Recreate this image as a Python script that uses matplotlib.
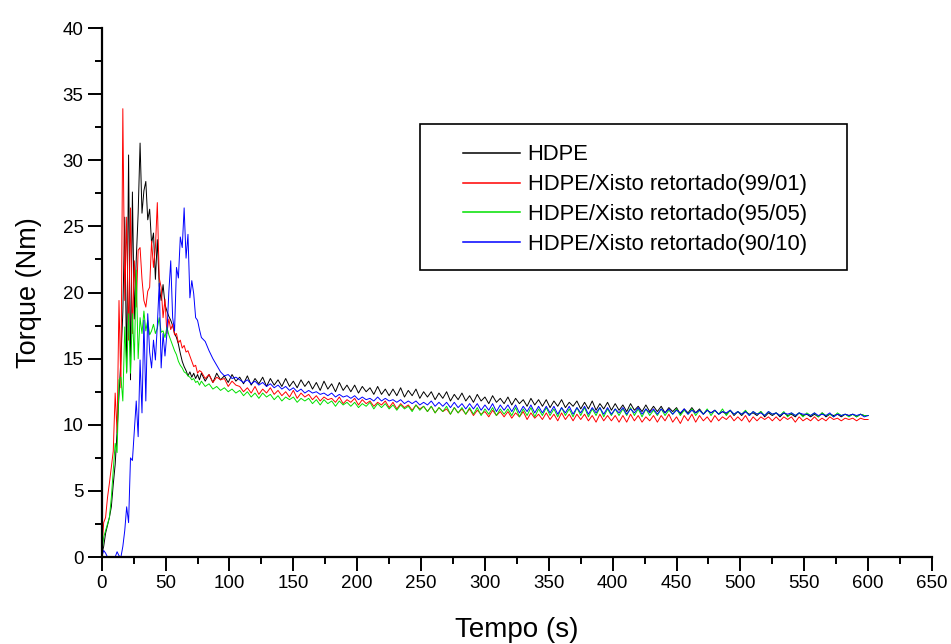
import numpy as np
import matplotlib
matplotlib.use('Agg')
import matplotlib.pyplot as plt
from matplotlib.patches import Rectangle
from matplotlib.lines import Line2D
from matplotlib.ticker import MultipleLocator

plt.rcParams['font.family'] = ['Liberation Sans', 'DejaVu Sans']

# time grid: fine sampling during the mixing peak, coarser afterwards
t_early = np.arange(0, 77, 1.5)
t_tail = np.arange(78, 601, 3)
tempo = np.concatenate([t_early, t_tail])

hdpe_early = [0.2, 0.8, 1.8, 2.4, 3.0, 3.8, 5.5, 7.0, 9.5, 12.2,
              15.0, 18.5, 25.7, 14.0, 30.4, 13.4, 27.6, 18.0, 22.5, 26.0,
              31.3, 26.0, 27.7, 28.4, 25.5, 26.3, 23.7, 24.5, 21.0, 24.0,
              20.5, 19.4, 20.6, 19.1, 18.6, 18.2, 17.9, 17.5, 16.9, 16.6,
              16.1, 15.4, 14.8, 14.4, 14.1, 13.7, 14.0, 13.6, 13.9, 13.5,
              13.8, 13.4]
hdpe_tail = [13.9, 13.3, 13.8, 13.2, 13.9, 13.4, 13.7, 13.2, 13.8, 13.3,
             13.6, 13.1, 13.7, 13.0, 13.5, 13.1, 13.6, 12.9, 13.5, 13.0,
             13.4, 12.9, 13.5, 12.9, 13.3, 12.8, 13.4, 12.9, 13.3, 12.7,
             13.2, 12.6, 13.3, 12.7, 13.1, 12.5, 13.2, 12.6, 13.0, 12.5,
             13.0, 12.4, 12.9, 12.5, 12.8, 12.3, 12.9, 12.3, 12.7, 12.2,
             12.7, 12.2, 12.8, 12.1, 12.6, 12.2, 12.7, 12.0, 12.5, 12.1,
             12.5, 11.9, 12.4, 12.0, 12.5, 11.8, 12.3, 11.9, 12.4, 11.8,
             12.2, 11.7, 12.3, 11.8, 12.1, 11.6, 12.2, 11.7, 12.0, 11.6,
             12.1, 11.5, 12.0, 11.6, 11.9, 11.4, 12.0, 11.5, 11.9, 11.4,
             11.9, 11.3, 11.8, 11.4, 11.9, 11.3, 11.7, 11.4, 11.8, 11.2,
             11.7, 11.2, 11.8, 11.1, 11.6, 11.2, 11.7, 11.1, 11.6, 11.1,
             11.5, 11.0, 11.6, 11.1, 11.4, 11.0, 11.5, 11.0, 11.4, 11.0,
             11.4, 10.9, 11.3, 11.0, 11.3, 10.8, 11.2, 10.9, 11.3, 10.9,
             11.2, 10.8, 11.1, 10.9, 11.1, 10.8, 11.0, 10.8, 11.1, 10.7,
             11.0, 10.7, 11.0, 10.8, 10.9, 10.7, 11.0, 10.6, 10.9, 10.7,
             10.9, 10.6, 10.9, 10.7, 10.8, 10.6, 10.9, 10.7, 10.8, 10.6,
             10.8, 10.6, 10.9, 10.6, 10.8, 10.7, 10.8, 10.6, 10.8, 10.7,
             10.8, 10.6, 10.8, 10.7, 10.7]

x99_early = [0.5, 2.6, 3.0, 4.5, 5.6, 6.8, 8.0, 12.4, 9.4, 19.4,
             12.8, 33.9, 19.4, 25.7, 16.4, 26.4, 16.9, 22.4, 18.9, 23.2,
             23.4, 21.0, 19.4, 18.9, 20.1, 20.4, 23.9, 21.9, 23.4, 26.8,
             21.1, 20.4, 18.1, 19.5, 16.9, 18.0, 17.2, 17.6, 16.8, 16.9,
             16.2, 16.4, 15.8, 16.0, 15.5, 15.6, 15.2, 14.8, 14.4, 14.5,
             13.9, 14.1]
x99_tail = [14.0, 13.5, 13.8, 13.2, 13.6, 13.4, 13.5, 12.9, 13.3, 13.0,
            12.9, 12.5, 12.8, 12.4, 12.9, 12.3, 12.7, 12.4, 12.8, 12.3,
            12.6, 12.2, 12.5, 12.1, 12.6, 12.0, 12.4, 12.1, 12.3, 11.9,
            12.2, 11.8, 12.1, 11.9, 12.0, 11.7, 12.1, 11.6, 11.9, 11.7,
            12.0, 11.5, 11.9, 11.6, 11.8, 11.4, 11.7, 11.5, 11.8, 11.3,
            11.7, 11.2, 11.6, 11.3, 11.5, 11.1, 11.5, 11.2, 11.4, 11.0,
            11.4, 10.9, 11.3, 11.0, 11.2, 10.8, 11.3, 10.9, 11.2, 10.8,
            11.2, 10.7, 11.1, 10.8, 11.0, 10.6, 11.1, 10.7, 11.0, 10.6,
            11.0, 10.5, 10.9, 10.6, 11.0, 10.4, 10.9, 10.5, 10.8, 10.4,
            10.9, 10.4, 10.8, 10.3, 10.9, 10.4, 10.8, 10.3, 10.8, 10.4,
            10.8, 10.3, 10.7, 10.2, 10.8, 10.3, 10.7, 10.3, 10.7, 10.2,
            10.7, 10.2, 10.8, 10.3, 10.7, 10.2, 10.6, 10.3, 10.7, 10.2,
            10.7, 10.3, 10.8, 10.2, 10.6, 10.1, 10.7, 10.3, 10.8, 10.2,
            10.7, 10.3, 10.6, 10.2, 10.7, 10.3, 10.6, 10.4, 10.7, 10.3,
            10.6, 10.3, 10.7, 10.2, 10.6, 10.3, 10.6, 10.4, 10.6, 10.3,
            10.6, 10.3, 10.6, 10.4, 10.6, 10.2, 10.6, 10.3, 10.5, 10.3,
            10.6, 10.3, 10.5, 10.3, 10.6, 10.4, 10.5, 10.3, 10.5, 10.4,
            10.5, 10.3, 10.5, 10.4, 10.4]

x95_early = [0.2, 1.5, 2.0, 2.5, 3.0, 4.5, 6.5, 8.6, 7.9, 13.4,
             13.6, 11.8, 17.4, 13.9, 18.4, 13.9, 18.4, 14.9, 21.7, 15.0,
             18.1, 16.9, 18.6, 17.1, 17.9, 16.8, 17.1, 17.6, 16.9, 17.3,
             18.1, 17.0, 17.1, 16.6, 17.4, 16.8, 16.4, 16.0, 15.6, 15.3,
             14.8, 14.5, 14.3, 14.0, 13.9, 13.7, 13.6, 13.4, 13.5, 13.2,
             13.3, 13.0]
x95_tail = [13.3, 12.9, 13.1, 12.7, 12.9, 12.6, 12.8, 12.5, 12.7, 12.4,
            12.6, 12.2, 12.5, 12.1, 12.4, 12.0, 12.4, 12.1, 12.3, 11.9,
            12.2, 11.8, 12.1, 11.9, 12.1, 11.7, 12.0, 11.8, 12.0, 11.6,
            11.9, 11.5, 11.9, 11.6, 11.8, 11.4, 11.8, 11.5, 11.7, 11.4,
            11.7, 11.3, 11.6, 11.4, 11.7, 11.2, 11.6, 11.3, 11.6, 11.2,
            11.5, 11.1, 11.5, 11.2, 11.4, 11.0, 11.5, 11.1, 11.4, 11.0,
            11.4, 10.9, 11.3, 11.0, 11.4, 10.8, 11.3, 10.9, 11.3, 10.8,
            11.3, 10.8, 11.3, 10.7, 11.2, 10.8, 11.3, 10.7, 11.2, 10.8,
            11.2, 10.7, 11.3, 10.6, 11.2, 10.7, 11.3, 10.6, 11.2, 10.7,
            11.3, 10.7, 11.2, 10.6, 11.3, 10.7, 11.2, 10.6, 11.3, 10.7,
            11.3, 10.6, 11.2, 10.7, 11.3, 10.6, 11.2, 10.7, 11.2, 10.7,
            11.2, 10.7, 11.3, 10.7, 11.2, 10.6, 11.2, 10.7, 11.1, 10.7,
            11.2, 10.7, 11.1, 10.8, 11.2, 10.7, 11.1, 10.8, 11.2, 10.7,
            11.1, 10.8, 11.2, 10.7, 11.1, 10.8, 11.2, 10.7, 11.1, 10.8,
            11.0, 10.8, 11.1, 10.7, 11.0, 10.8, 11.0, 10.7, 11.0, 10.8,
            10.9, 10.7, 11.0, 10.6, 10.9, 10.7, 10.9, 10.6, 10.9, 10.7,
            10.9, 10.6, 10.9, 10.7, 10.8, 10.6, 10.9, 10.7, 10.8, 10.6,
            10.8, 10.6, 10.8, 10.7, 10.7]

x90_early = [0.0, 0.5, 0.3, 0.0, 0.0, 0.0, 0.0, 0.0, 0.4, 0.1,
             0.0, 0.8, 2.0, 3.8, 2.6, 7.5, 7.3, 9.5, 11.8, 9.1,
             14.9, 10.9, 17.9, 11.8, 18.4, 15.5, 14.3, 16.4, 14.9, 17.5,
             20.7, 14.3, 16.9, 15.2, 16.9, 20.0, 22.4, 18.1, 17.1, 21.9,
             21.1, 24.2, 23.4, 26.4, 22.6, 24.4, 19.6, 20.9, 19.9, 18.1,
             17.9, 17.2]
x90_tail = [16.6, 16.3, 15.6, 15.0, 14.5, 14.0, 13.7, 13.8, 13.5, 13.6,
            13.4, 13.2, 13.4, 13.1, 13.3, 13.0, 13.2, 12.9, 13.1, 12.8,
            13.0, 12.7, 12.9, 12.6, 12.8, 12.5, 12.7, 12.4, 12.6, 12.4,
            12.5, 12.3, 12.4, 12.2, 12.4, 12.1, 12.3, 12.1, 12.2, 12.0,
            12.2, 11.9, 12.1, 11.9, 12.0, 11.8, 12.1, 11.8, 12.0, 11.8,
            11.9, 11.7, 11.9, 11.6, 11.8, 11.6, 11.8, 11.5, 11.7, 11.5,
            11.8, 11.4, 11.7, 11.4, 11.7, 11.3, 11.7, 11.3, 11.6, 11.2,
            11.6, 11.2, 11.6, 11.1, 11.5, 11.1, 11.6, 11.0, 11.5, 11.1,
            11.5, 11.0, 11.5, 10.9, 11.4, 11.0, 11.5, 10.9, 11.4, 10.9,
            11.4, 10.9, 11.4, 10.8, 11.3, 10.9, 11.4, 10.8, 11.3, 10.9,
            11.4, 10.8, 11.3, 10.9, 11.3, 10.8, 11.3, 10.8, 11.2, 10.9,
            11.3, 10.8, 11.2, 10.9, 11.3, 10.8, 11.2, 10.9, 11.2, 10.8,
            11.2, 10.9, 11.2, 10.8, 11.1, 10.9, 11.2, 10.8, 11.1, 10.9,
            11.1, 10.8, 11.1, 10.9, 11.1, 10.8, 11.0, 10.9, 11.1, 10.8,
            11.0, 10.8, 11.0, 10.7, 11.0, 10.8, 10.9, 10.7, 11.0, 10.8,
            10.9, 10.7, 10.9, 10.8, 10.9, 10.7, 10.9, 10.8, 10.8, 10.7,
            10.9, 10.7, 10.8, 10.7, 10.9, 10.6, 10.8, 10.7, 10.8, 10.7,
            10.8, 10.7, 10.8, 10.6, 10.7]

series = [
    ('HDPE', hdpe_early + hdpe_tail, 'black'),
    ('HDPE/Xisto retortado(99/01)', x99_early + x99_tail, '#ff0000'),
    ('HDPE/Xisto retortado(95/05)', x95_early + x95_tail, '#00e000'),
    ('HDPE/Xisto retortado(90/10)', x90_early + x90_tail, '#0000ff'),
]

fig = plt.figure(figsize=(9.51, 6.44), dpi=100)
ax = fig.add_axes([0.107, 0.135, 0.873, 0.8215])

handles = []
for name, vals, col in series:
    ax.plot(tempo, vals, color=col, lw=0.7)
    handles.append(Line2D([], [], color=col, lw=1.1, label=name))

ax.set_xlim(0, 650)
ax.set_ylim(0, 40)
ax.xaxis.set_major_locator(MultipleLocator(50))
ax.xaxis.set_minor_locator(MultipleLocator(25))
ax.yaxis.set_major_locator(MultipleLocator(5))
ax.yaxis.set_minor_locator(MultipleLocator(2.5))
ax.spines['top'].set_visible(False)
ax.spines['right'].set_visible(False)
ax.spines['left'].set_linewidth(1.6)
ax.spines['bottom'].set_linewidth(1.6)
ax.tick_params(which='major', direction='out', length=10, width=1.4, labelsize=13.5, pad=3)
ax.tick_params(which='minor', direction='out', length=5, width=1.4)

ax.set_xlabel('Tempo (s)', fontsize=20, labelpad=18)
ax.set_ylabel('Torque (Nm)', fontsize=19.5, labelpad=15)

ax.add_patch(Rectangle((0.383, 0.5425), 0.515, 0.276, transform=ax.transAxes,
                       fill=False, lw=1.2, edgecolor='black', zorder=5))
ax.legend(handles=handles, loc='upper left', bbox_to_anchor=(0.435, 0.78),
          frameon=False, fontsize=15.8, handlelength=2.6, handletextpad=0.35,
          labelspacing=0.4, borderpad=0, borderaxespad=0)

fig.savefig('out.png', dpi=100)
